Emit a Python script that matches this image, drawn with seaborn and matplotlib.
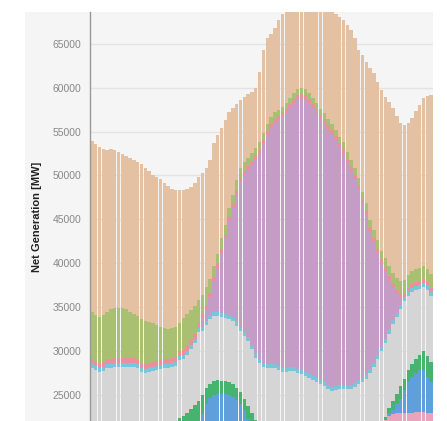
import matplotlib
matplotlib.use("Agg")
import matplotlib.pyplot as plt
import seaborn as sns
import pandas as pd
from matplotlib.patches import Rectangle

# one bar per interval, stacked by source (MW)
intervals = list(range(90))

gas = [19420, 19430, 19320, 18860, 18390, 18170, 17940, 17710, 17490, 17370,
       17480, 17480, 17480, 17590, 17380, 17140, 16800, 16800, 16800, 16450,
       16230, 15770, 15540, 15080, 14510, 14170, 13950, 13940, 13950, 13820,
       13490, 13490, 13950, 13490, 12570, 12000, 10970, 9950, 8690, 7770,
       7430, 7320, 6970, 6860, 8000, 9480, 9830, 9480, 9600, 10280,
       10630, 10850, 10630, 10400, 10170, 10170, 10400, 10860, 11310, 11770,
       12340, 12570, 12910, 13030, 13260, 13720, 13940, 14520, 14860, 14860,
       14630, 15660, 16110, 17380, 17950, 18060, 18290, 18290, 18630, 18750,
       18400, 17940, 17600, 17260, 17370, 17940, 18520, 19090, 19660, 20340]

wind = [5380, 5260, 5260, 5370, 5380, 5720, 5720, 5720, 5720, 5610,
        5270, 5040, 4920, 5040, 4910, 4690, 4460, 4120, 3770, 3550,
        3430, 3440, 3430, 3200, 3660, 3660, 3430, 3200, 2620, 2060,
        2060, 1600, 1260, 1140, 1150, 1030, 1000, 1000, 1100, 1100,
        1000, 900, 900, 850, 850, 800, 800, 750, 750, 700,
        700, 700, 650, 650, 650, 650, 650, 650, 650, 650,
        650, 700, 700, 700, 700, 700, 750, 750, 750, 800,
        800, 800, 850, 850, 900, 950, 1000, 1100, 1200, 1300,
        1400, 1500, 1500, 1500, 1500, 1500, 1500, 1500, 1500, 1600]

geothermal = [550] * 31 + [450] * 45 + [500] * 14

solar = [0] * 29 + [1060, 1280, 2070, 3550, 5040, 6870, 8580, 10680, 12390, 14570, 16520,
                    17870, 19000, 20480, 22140, 23400, 24930, 26080, 26930, 27500, 28010,
                    28580, 29040, 29540, 30110, 30800, 31020, 31140, 30910, 30570, 30230,
                    29760, 29490, 29140, 28800, 28000, 27080, 26460, 25310, 24400, 23220,
                    21720, 19900, 18250, 15620, 13740, 11640, 9470, 7660, 5620, 3580,
                    2110, 750] + [0] * 8

biomass = [450] * 90

imports = [6510, 6280, 6050, 6170, 6510, 6510, 6620, 6620, 6620, 6620,
           6620, 6620, 6510, 6050, 5940, 6050, 6170, 6280, 6400, 6510,
           6510, 6620, 6440, 6660, 6540, 6600, 6880, 7070, 7930, 7310,
           7200, 7380, 7430, 7330, 7310, 7200, 7180, 7150, 7080, 7010,
           7240, 7470, 7360, 7120, 7050, 6600, 6480, 6480, 6480, 6250,
           6020, 6020, 6140, 6140, 5910, 5800, 5570, 5340, 5110, 4880,
           4660, 4430, 4090, 3860, 3970, 4090, 4090, 4090, 4090, 4310,
           4660, 4880, 5230, 5910, 6600, 7510, 8230, 8440, 8470, 8810,
           8810, 8830, 8890, 8460, 8220, 7850, 7460, 7290, 7550, 7480]

small_hydro = [600] * 22 + [900, 1370, 1600, 2000, 2400, 2900, 2300, 2200,
                            1800, 1600, 1600, 1600, 1500, 1500, 1500, 1500, 1400, 1300,
                            1200, 1400, 1900, 1100] + [600] * 32 + [800, 300, 500, 1000,
                            1100, 1400, 1200, 1300, 1500, 1600, 1800, 2200, 2300, 2300]

large_hydro = [1000] * 28 + [2000, 2800, 4000, 4700, 5000, 5100, 5100, 5100, 5000, 4800,
                             4400, 4000, 3300, 2300] + [1000] * 35 + [100, 400, 500, 1100,
                             1600, 2600, 3500, 4000, 4400, 4700, 4700, 4100, 3600]

batteries = [500] * 77 + [2600, 3100, 3300, 3400, 3500, 3500, 3500, 3500, 3600, 3600,
                          3600, 3500, 3400]

nuclear = [19500] * 90

# top of the stack first
order = ["Natural Gas", "Wind", "Geothermal", "Solar", "Biomass", "Imports",
         "Small Hydro", "Large Hydro", "Batteries", "Nuclear"]
series = [gas, wind, geothermal, solar, biomass, imports,
          small_hydro, large_hydro, batteries, nuclear]
colors = ["#e5c1a3", "#a9bf72", "#ea8f9c", "#c49cc6", "#78c6dc", "#d5d5d5",
          "#46b46e", "#5f9fdc", "#eaa3bd", "#cccccc"]

rows = []
for name, vals in zip(order, series):
    for i, v in zip(intervals, vals):
        rows.append({"interval": i, "source": name, "mw": v})
df = pd.DataFrame(rows)

sns.set_theme(style="white")
plt.rcParams["font.family"] = ["Liberation Sans", "DejaVu Sans"]

fig = plt.figure(figsize=(4.47, 4.21), dpi=100)
fig.patch.set_facecolor("white")
fig.patches.append(Rectangle((25 / 447, 0), 408 / 447, 409 / 421, transform=fig.transFigure,
                             facecolor="#f5f5f5", edgecolor="none", zorder=-10))

ax = fig.add_axes([90 / 447, 0, 343 / 447, 409 / 421])
ax.set_facecolor("#f5f5f5")

sns.histplot(data=df, x="interval", weights="mw", hue="source", hue_order=order,
             multiple="stack", discrete=True, shrink=0.9, palette=colors,
             edgecolor="none", linewidth=0, alpha=1, legend=False, ax=ax)

ax.set_xlim(-0.5, 89.5)
ax.set_ylim(22040, 68620)
ax.set_yticks([25000, 30000, 35000, 40000, 45000, 50000, 55000, 60000, 65000])
ax.set_xticks([])
ax.set_xlabel("")
ax.set_ylabel("Net Generation [MW]", fontsize=8, fontweight="bold", color="#222222", labelpad=8)
ax.yaxis.grid(True, color="#e3e3e3", linewidth=1)
ax.set_axisbelow(True)
ax.tick_params(axis="y", length=3, width=0.8, color="#aaaaaa", labelcolor="#888888", labelsize=7.5, pad=3)
for side in ["top", "right", "bottom"]:
    ax.spines[side].set_visible(False)
ax.spines["left"].set_color("#999999")
ax.spines["left"].set_linewidth(1)

fig.savefig("out.png", dpi=100, facecolor="white")
